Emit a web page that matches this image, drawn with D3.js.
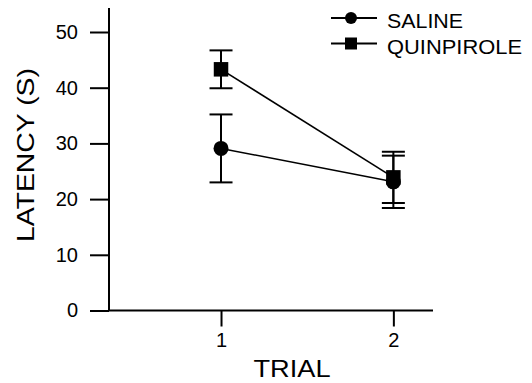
<!DOCTYPE html>
<html>
<head>
<meta charset="utf-8">
<script src="https://cdn.jsdelivr.net/npm/d3@7"></script>
<style>
  body { margin: 0; background: #fff; }
  text { font-family: "Liberation Sans", Arial, sans-serif; fill: #000; }
</style>
</head>
<body>
<svg width="532" height="383"></svg>
<script>
// values
var trials = [1, 2]
var salineMean = [29.1, 23.1]
var salineErr = [6.1, 4.7]
var quinMean = [43.3, 23.9]
var quinErr = [3.4, 4.6]
var yTicks = [0, 10, 20, 30, 40, 50]
var seriesNames = ["SALINE", "QUINPIROLE"]

var svg = d3.select("svg")

var x = d3.scaleLinear().domain([0.35, 2.23]).range([109, 433])
var y = d3.scaleLinear().domain([0, 50]).range([310.5, 32])
var yTop = 54.3

function rows(means, errs) {
  return trials.map((t, i) => ({trial: t, mean: means[i], err: errs[i]}))
}
var series = [
  {name: seriesNames[0], shape: "circle", data: rows(salineMean, salineErr)},
  {name: seriesNames[1], shape: "square", data: rows(quinMean, quinErr)}
]

// axes
var gy = svg.append("g").attr("transform", "translate(109,0)")
  .call(d3.axisLeft(y).tickValues(yTicks).tickSize(19).tickPadding(12).tickSizeOuter(0))
gy.select(".domain").remove()
gy.selectAll(".tick line").attr("stroke", "#000").attr("stroke-width", 2)
gy.selectAll(".tick text").style("font-size", "20px")

var gx = svg.append("g").attr("transform", "translate(0," + y(0) + ")")
  .call(d3.axisBottom(x).tickValues(trials).tickFormat(d3.format("d")).tickSize(16).tickPadding(6).tickSizeOuter(0))
gx.select(".domain").remove()
gx.selectAll(".tick line").attr("stroke", "#000").attr("stroke-width", 2)
gx.selectAll(".tick text").style("font-size", "20px")

svg.append("line")
  .attr("x1", x.range()[0]).attr("x2", x.range()[0])
  .attr("y1", y(0)).attr("y2", y(yTop))
  .attr("stroke", "#000").attr("stroke-width", 2)
svg.append("line")
  .attr("x1", x.range()[0] - 1).attr("x2", x.range()[1])
  .attr("y1", y(0)).attr("y2", y(0))
  .attr("stroke", "#000").attr("stroke-width", 2)

// axis titles
svg.append("text")
  .attr("x", 292).attr("y", 377)
  .attr("text-anchor", "middle")
  .attr("textLength", 77).attr("lengthAdjust", "spacingAndGlyphs")
  .style("font-size", "23px")
  .text("TRIAL")

svg.append("text")
  .attr("transform", "translate(34,155) rotate(-90)")
  .attr("text-anchor", "middle")
  .attr("textLength", 174).attr("lengthAdjust", "spacingAndGlyphs")
  .style("font-size", "24.5px")
  .text("LATENCY (S)")

var line = d3.line().x(d => x(d.trial)).y(d => y(d.mean))

function marker(g, shape, size) {
  if (shape == "circle") {
    g.append("circle").attr("r", size / 2).attr("fill", "#000")
  } else {
    g.append("rect").attr("x", -size / 2).attr("y", -size / 2)
      .attr("width", size).attr("height", size).attr("fill", "#000")
  }
}

series.forEach(s => {
  var g = svg.append("g")
  g.append("path").datum(s.data)
    .attr("d", line).attr("fill", "none")
    .attr("stroke", "#000").attr("stroke-width", 1.6)

  var eb = g.selectAll("g.err").data(s.data).enter().append("g").attr("class", "err")
  eb.append("line")
    .attr("x1", d => x(d.trial)).attr("x2", d => x(d.trial))
    .attr("y1", d => y(d.mean + d.err)).attr("y2", d => y(d.mean - d.err))
    .attr("stroke", "#000").attr("stroke-width", 2)
  eb.append("line")
    .attr("x1", d => x(d.trial) - 11.5).attr("x2", d => x(d.trial) + 11.5)
    .attr("y1", d => y(d.mean + d.err)).attr("y2", d => y(d.mean + d.err))
    .attr("stroke", "#000").attr("stroke-width", 2)
  eb.append("line")
    .attr("x1", d => x(d.trial) - 11.5).attr("x2", d => x(d.trial) + 11.5)
    .attr("y1", d => y(d.mean - d.err)).attr("y2", d => y(d.mean - d.err))
    .attr("stroke", "#000").attr("stroke-width", 2)

  s.data.forEach(d => {
    var m = g.append("g").attr("transform", "translate(" + x(d.trial) + "," + y(d.mean) + ")")
    marker(m, s.shape, s.shape == "circle" ? 15 : 14.5)
  })
})

// legend
var legend = svg.append("g")
var legW = [76, 135]
series.forEach((s, i) => {
  var base = 28 + i * 25.5
  var cy = base - 10
  legend.append("line")
    .attr("x1", 331).attr("x2", 377).attr("y1", cy).attr("y2", cy)
    .attr("stroke", "#000").attr("stroke-width", 2)
  var m = legend.append("g").attr("transform", "translate(351," + cy + ")")
  marker(m, s.shape, s.shape == "circle" ? 12 : 12)
  legend.append("text")
    .attr("x", 387).attr("y", base)
    .attr("textLength", legW[i]).attr("lengthAdjust", "spacingAndGlyphs")
    .style("font-size", "19.5px")
    .text(s.name)
})
</script>
</body>
</html>
